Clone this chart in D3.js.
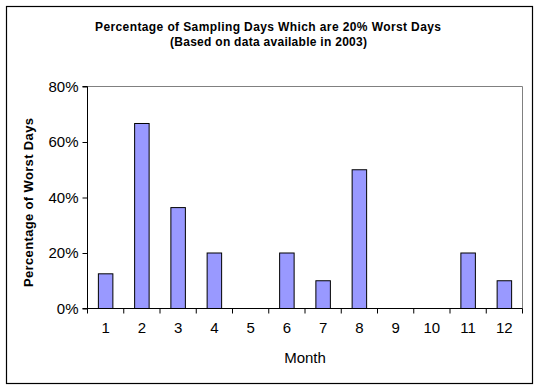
<!DOCTYPE html>
<html><head><meta charset="utf-8">
<script src="https://cdn.jsdelivr.net/npm/d3@7"></script>
<style>body{margin:0;background:#fff}svg{display:block}text{font-family:Arial,"Liberation Sans",sans-serif}</style>
</head><body><svg id="c" width="540" height="391"></svg>
<script>
const months = ["1","2","3","4","5","6","7","8","9","10","11","12"];
const values = [0.125, 0.6667, 0.3636, 0.20, 0, 0.20, 0.10, 0.50, 0, 0, 0.20, 0.10];
const yTicks = [0, 0.2, 0.4, 0.6, 0.8];
const titleLines = ["Percentage of Sampling Days Which are 20% Worst Days", "(Based on data available in 2003)"];
const xLabel = "Month";
const yLabel = "Percentage of Worst Days";

const svg = d3.select("#c");
svg.append("rect").attr("x",6.5).attr("y",6.5).attr("width",526).attr("height",377)
  .attr("fill","#fff").attr("stroke","#000").attr("stroke-width",1.2);

const L=87.5, R=522.5, T=86.5, B=308.5;
const x = d3.scaleBand().domain(months).range([L,R]).paddingInner(0).paddingOuter(0);
const y = d3.scaleLinear().domain([0,0.8]).range([B,T]);

svg.append("path").attr("d",`M${L},${T}H${R}V${B}`).attr("fill","none").attr("stroke","#808080").attr("stroke-width",1);

const bw = x.bandwidth()/2.5;
svg.append("g").selectAll("rect").data(values.map((v,i)=>({m:months[i],v}))).join("rect")
  .filter(d=>d.v>0)
  .attr("x",d=>x(d.m)+x.bandwidth()/2-bw/2).attr("width",bw)
  .attr("y",d=>y(d.v)).attr("height",d=>y(0)-y(d.v))
  .attr("fill","#9999FF").attr("stroke","#000").attr("stroke-width",1);

const yAxis = d3.axisLeft(y).tickValues(yTicks).tickFormat(d3.format(".0%")).tickSize(5).tickPadding(4);
const gy = svg.append("g").attr("transform",`translate(${L},0)`).call(yAxis);
gy.select(".domain").attr("stroke","#000").attr("d",`M-5,${T}H0V${B}H-5`);
gy.selectAll("text").attr("font-size",15).attr("fill","#000");
gy.selectAll(".tick line").attr("stroke","#000");

const xAxis = d3.axisBottom(x).tickSize(0).tickPadding(14);
const gx = svg.append("g").attr("transform",`translate(0,${B})`).call(xAxis);
gx.select(".domain").attr("stroke","#000").attr("d",`M${L},0H${R}`);
gx.selectAll("text").attr("font-size",15).attr("fill","#000");
svg.append("g").selectAll("line").data(d3.range(months.length+1)).join("line")
  .attr("x1",i=>L+i*x.step()).attr("x2",i=>L+i*x.step())
  .attr("y1",B).attr("y2",B+5).attr("stroke","#000");

svg.append("text").attr("x",(L+R)/2).attr("y",363).attr("text-anchor","middle")
  .attr("font-size",15).text(xLabel);
svg.append("text").attr("transform",`translate(33,202.5) rotate(-90)`).attr("text-anchor","middle")
  .attr("font-size",13).attr("font-weight","bold")
  .attr("textLength",169).attr("lengthAdjust","spacing").text(yLabel);

svg.append("text").attr("x",268).attr("y",30.5).attr("text-anchor","middle")
  .attr("font-size",12).attr("font-weight","bold")
  .attr("textLength",346).attr("lengthAdjust","spacing").text(titleLines[0]);
svg.append("text").attr("x",268.5).attr("y",46).attr("text-anchor","middle")
  .attr("font-size",12).attr("font-weight","bold")
  .attr("textLength",197).attr("lengthAdjust","spacing").text(titleLines[1]);
</script></body></html>
